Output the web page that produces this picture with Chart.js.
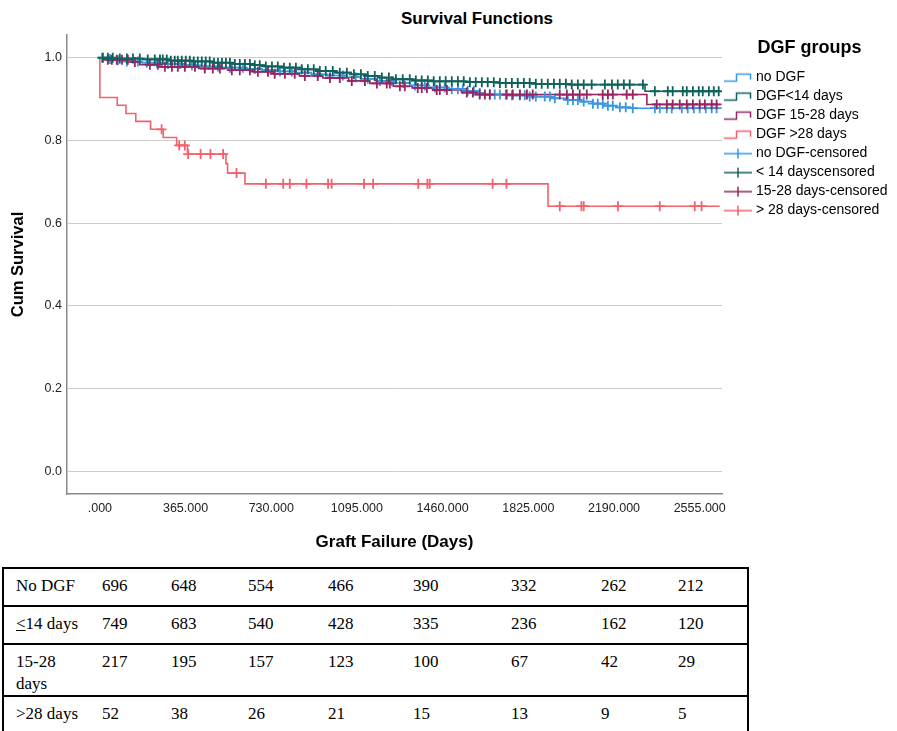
<!DOCTYPE html>
<html>
<head>
<meta charset="utf-8">
<title>Survival Functions</title>
<script src="https://cdn.jsdelivr.net/npm/chart.js@4.4.0/dist/chart.umd.min.js"></script>
<style>
    body { margin: 0; background: #fff; width: 897px; height: 731px; overflow: hidden; position: relative;
           font-family: 'Liberation Sans', Arial, sans-serif; }
    #title { position: absolute; left: 327px; width: 300px; top: 9px; text-align: center;
             font-weight: bold; font-size: 17px; line-height: 20px; color: #000; }
    #wrap { position: absolute; left: 0; top: 0; width: 897px; height: 560px; }
    #risk { position: absolute; left: 2px; top: 567px; width: 745px; border-collapse: collapse; table-layout: fixed;
            font-family: 'Liberation Serif', 'Times New Roman', serif; font-size: 17px; color: #000; }
    #risk td { border-top: 2px solid #000; border-bottom: 2px solid #000; padding: 6px 0 0 12px;
               vertical-align: top; line-height: 22px; }
    #risk td:first-child { border-left: 2px solid #000; padding-right: 5px; }
    #risk td:last-child { border-right: 2px solid #000; }
</style>
</head>
<body>
<div id="title">Survival Functions</div>
<div id="wrap"><canvas id="chart" width="897" height="560"></canvas></div>
<table id="risk"><colgroup id="cols"></colgroup><tbody id="riskBody"></tbody></table>

<script>
//axis ticks
const dayTicks = [0, 365, 730, 1095, 1460, 1825, 2190, 2555];
const dayTickLabels = [".000", "365.000", "730.000", "1095.000", "1460.000", "1825.000", "2190.000", "2555.000"];
const survTicks = [0, 0.2, 0.4, 0.6, 0.8, 1.0];
const survTickLabels = ["0.0", "0.2", "0.4", "0.6", "0.8", "1.0"];

//legend texts
const groupNames = ["no DGF", "DGF<14 days", "DGF 15-28 days", "DGF >28 days"];
const censorNames = ["no DGF-censored", "< 14 dayscensored", "15-28 days-censored", "> 28 days-censored"];
const groupColors = ["#3a96e2", "#0f625b", "#982461", "#f5606c"];

//Kaplan-Meier steps, [day, cum survival]
const noDgfSteps = [[0, 1], [15, 0.997], [45, 0.994], [100, 0.991], [170, 0.988], [260, 0.985], [350, 0.982],
    [430, 0.979], [520, 0.976], [610, 0.973], [690, 0.970], [760, 0.967], [830, 0.964], [900, 0.960],
    [970, 0.957], [1040, 0.953], [1110, 0.949], [1180, 0.944], [1250, 0.939], [1320, 0.933], [1400, 0.928],
    [1480, 0.924], [1560, 0.920], [1600, 0.915], [1640, 0.911], [1730, 0.909], [1820, 0.906], [1920, 0.902],
    [1990, 0.898], [2050, 0.894], [2100, 0.889], [2150, 0.884], [2200, 0.880], [2260, 0.878], [2640, 0.878]];
const dgf14Steps = [[0, 1], [80, 0.998], [180, 0.996], [300, 0.993], [400, 0.991], [480, 0.988], [560, 0.985],
    [640, 0.982], [700, 0.979], [780, 0.976], [860, 0.972], [930, 0.968], [1000, 0.964], [1070, 0.960],
    [1140, 0.956], [1200, 0.952], [1250, 0.948], [1330, 0.945], [1420, 0.943], [1560, 0.941], [1700, 0.939],
    [1850, 0.937], [2000, 0.935], [2322, 0.919], [2640, 0.919]];
const dgf1528Steps = [[0, 1], [30, 0.995], [120, 0.990], [170, 0.983], [250, 0.978], [420, 0.974], [560, 0.970],
    [640, 0.966], [740, 0.961], [850, 0.956], [950, 0.951], [1060, 0.944], [1150, 0.938], [1250, 0.931],
    [1330, 0.927], [1420, 0.922], [1540, 0.916], [1600, 0.911], [2330, 0.887], [2640, 0.887]];
const dgf28Steps = [[0, 1], [0, 0.904], [74, 0.885], [111, 0.865], [153, 0.846], [216, 0.827], [270, 0.807],
    [327, 0.788], [373, 0.767], [537, 0.744], [544, 0.721], [618, 0.695], [1909, 0.641], [2640, 0.641]];

//censored times (days)
const noDgfCensored = [9, 43, 77, 115, 162, 200, 243, 290, 341, 392, 447, 503, 554, 609, 660, 716, 767, 818,
    873, 928, 980, 1035, 1090, 1141, 1193, 1244, 1295, 1342, 1384, 1427, 1469, 1499, 1525, 1546, 1567, 1593,
    1618, 1661, 1682, 1704, 1729, 1755, 1789, 1810, 1831, 1857, 1895, 1917, 1938, 1993, 2015, 2036, 2061,
    2100, 2121, 2142, 2164, 2185, 2215, 2240, 2270, 2364, 2385, 2415, 2436, 2479, 2504, 2530, 2555, 2581,
    2606, 2627];
const dgf14Censored = [13, 34, 55, 85, 115, 141, 170, 204, 234, 256, 268, 285, 302, 319, 332, 349, 366, 383,
    400, 417, 434, 451, 468, 486, 503, 520, 537, 554, 575, 596, 618, 639, 660, 681, 707, 733, 758, 784, 809,
    835, 860, 886, 911, 937, 962, 992, 1022, 1052, 1082, 1112, 1141, 1171, 1201, 1231, 1261, 1290, 1320,
    1346, 1371, 1397, 1422, 1448, 1473, 1499, 1525, 1550, 1576, 1601, 1627, 1652, 1678, 1704, 1729, 1755,
    1780, 1806, 1831, 1857, 1882, 1908, 1934, 1959, 1985, 2010, 2036, 2061, 2095, 2151, 2181, 2206, 2232,
    2257, 2313, 2364, 2419, 2440, 2483, 2500, 2526, 2551, 2568, 2594, 2615, 2636];
const dgf1528Censored = [34, 51, 72, 94, 119, 149, 213, 247, 277, 307, 332, 362, 405, 447, 481, 511, 562, 596,
    639, 673, 716, 745, 788, 830, 873, 928, 980, 1022, 1073, 1129, 1180, 1222, 1235, 1278, 1299, 1354, 1371,
    1393, 1435, 1448, 1478, 1563, 1589, 1618, 1640, 1661, 1733, 1759, 1789, 1819, 1844, 1959, 1989, 2015,
    2044, 2074, 2142, 2164, 2185, 2244, 2270, 2372, 2415, 2440, 2470, 2500, 2526, 2555, 2577, 2606, 2627];
const dgf28Censored = [263, 338, 362, 376, 429, 471, 525, 582, 707, 781, 809, 880, 972, 987, 1125, 1164, 1356,
    1395, 1405, 1673, 1732, 1959, 2051, 2061, 2207, 2385, 2534, 2563];

//numbers at risk under the chart
const riskLabels = ["No DGF", "<u>&lt;</u>14 days", "15-28 days", "&gt;28 days"];
const riskNoDgf = [696, 648, 554, 466, 390, 332, 262, 212];
const risk14 = [749, 683, 540, 428, 335, 236, 162, 120];
const risk1528 = [217, 195, 157, 123, 100, 67, 42, 29];
const risk28 = [52, 38, 26, 21, 15, 13, 9, 5];

const FONT = "'Liberation Sans', Arial, sans-serif";

//survival value of a step curve at time t
function survAt(steps, t) {
    let s = steps[0][1];
    steps.forEach(p => { if (p[0] <= t) s = p[1]; });
    return s;
}

//small legend glyphs
function stepGlyph(color) {
    let c = document.createElement("canvas");
    c.width = 28; c.height = 12;
    let g = c.getContext("2d");
    g.strokeStyle = color; g.lineWidth = 1.5;
    g.beginPath();
    g.moveTo(0, 9.5); g.lineTo(12.5, 9.5); g.lineTo(12.5, 2.5); g.lineTo(26.5, 2.5); g.lineTo(26.5, 8);
    g.stroke();
    return c;
}
function crossGlyph(color) {
    let c = document.createElement("canvas");
    c.width = 28; c.height = 12;
    let g = c.getContext("2d");
    g.strokeStyle = color; g.lineWidth = 1.5;
    g.beginPath();
    g.moveTo(0, 6); g.lineTo(28, 6);
    g.moveTo(14, 1); g.lineTo(14, 11);
    g.stroke();
    return c;
}

document.addEventListener("DOMContentLoaded", () => {
    //1. build the at-risk table
    let widths = [87, 69, 77, 80, 85, 98, 90, 77, 82];
    document.getElementById("cols").innerHTML = widths.map(w => "<col style='width:" + w + "px'>").join("");
    let rowHeights = [38, 38, 52, 38];
    let html = "";
    [riskNoDgf, risk14, risk1528, risk28].forEach((row, i) => {
        html += "<tr style='height:" + rowHeights[i] + "px'><td>" + riskLabels[i] + "</td>";
        row.forEach(v => html += "<td>" + v + "</td>");
        html += "</tr>";
    });
    document.getElementById("riskBody").innerHTML = html;

    //2. datasets: censor marks first so they sit on top
    let steps = [noDgfSteps, dgf14Steps, dgf1528Steps, dgf28Steps];
    let censored = [noDgfCensored, dgf14Censored, dgf1528Censored, dgf28Censored];
    let drawOrder = [1, 2, 0, 3];
    let datasets = [];
    drawOrder.forEach(g => {
        datasets.push({
            label: censorNames[g],
            data: censored[g].map(t => ({ x: t, y: survAt(steps[g], t) })),
            showLine: false,
            pointStyle: "cross",
            pointRadius: 5,
            pointBorderWidth: 1.8,
            pointBorderColor: groupColors[g],
            borderColor: groupColors[g]
        });
    });
    drawOrder.forEach(g => {
        datasets.push({
            label: groupNames[g],
            data: steps[g].map(p => ({ x: p[0], y: p[1] })),
            stepped: true,
            borderColor: groupColors[g],
            borderWidth: 1.6,
            pointRadius: 0,
            fill: false
        });
    });

    //3. chart
    let ctx = document.getElementById("chart").getContext("2d");
    new Chart(ctx, {
        type: "line",
        data: { datasets: datasets },
        options: {
            responsive: false,
            animation: false,
            layout: { padding: { top: 35, left: 0, right: 0, bottom: 0 } },
            plugins: {
                tooltip: { enabled: false },
                title: { display: false },
                legend: {
                    position: "right",
                    align: "start",
                    maxWidth: 175,
                    title: {
                        display: true,
                        text: "DGF groups",
                        color: "#000",
                        font: { family: FONT, size: 18, weight: "bold" },
                        padding: { top: 4, bottom: 5 }
                    },
                    labels: {
                        usePointStyle: true,
                        pointStyleWidth: 22,
                        padding: 5,
                        color: "#000",
                        font: { family: FONT, size: 14 },
                        generateLabels: () => {
                            let items = [];
                            groupNames.forEach((n, g) => items.push({ text: n, pointStyle: stepGlyph(groupColors[g]),
                                fillStyle: "transparent", strokeStyle: groupColors[g], lineWidth: 0, hidden: false,
                                datasetIndex: 4 + drawOrder.indexOf(g) }));
                            censorNames.forEach((n, g) => items.push({ text: n, pointStyle: crossGlyph(groupColors[g]),
                                fillStyle: "transparent", strokeStyle: groupColors[g], lineWidth: 0, hidden: false,
                                datasetIndex: drawOrder.indexOf(g) }));
                            return items;
                        }
                    }
                }
            },
            scales: {
                x: {
                    type: "linear",
                    min: -140,
                    max: 2650,
                    afterBuildTicks: scale => { scale.ticks = dayTicks.map(v => ({ value: v })); },
                    afterFit: scale => { scale.height = 66; },
                    grid: { display: false, drawTicks: false },
                    border: { display: true, color: "#8a8a8a", width: 1.5 },
                    ticks: {
                        autoSkip: false, maxRotation: 0, padding: 7, color: "#222",
                        font: { family: FONT, size: 12.5 },
                        callback: (v, i) => dayTickLabels[i]
                    },
                    title: {
                        display: true, text: "Graft Failure (Days)", color: "#000",
                        font: { family: FONT, size: 17, weight: "bold" },
                        padding: { top: 0, bottom: 7 }
                    }
                },
                y: {
                    type: "linear",
                    min: -0.055,
                    max: 1.055,
                    afterBuildTicks: scale => { scale.ticks = survTicks.map(v => ({ value: v })); },
                    afterFit: scale => { scale.width = 67; },
                    grid: { color: "#cdcdcd", lineWidth: 1, drawTicks: false },
                    border: { display: true, color: "#8a8a8a", width: 1.5 },
                    ticks: {
                        padding: 5, color: "#222",
                        font: { family: FONT, size: 12.5 },
                        callback: (v, i) => survTickLabels[i]
                    },
                    title: {
                        display: true, text: "Cum Survival", color: "#000",
                        font: { family: FONT, size: 16.5, weight: "bold" },
                        padding: { top: 9, bottom: 0 }
                    }
                }
            }
        }
    });
});
</script>
</body>
</html>
